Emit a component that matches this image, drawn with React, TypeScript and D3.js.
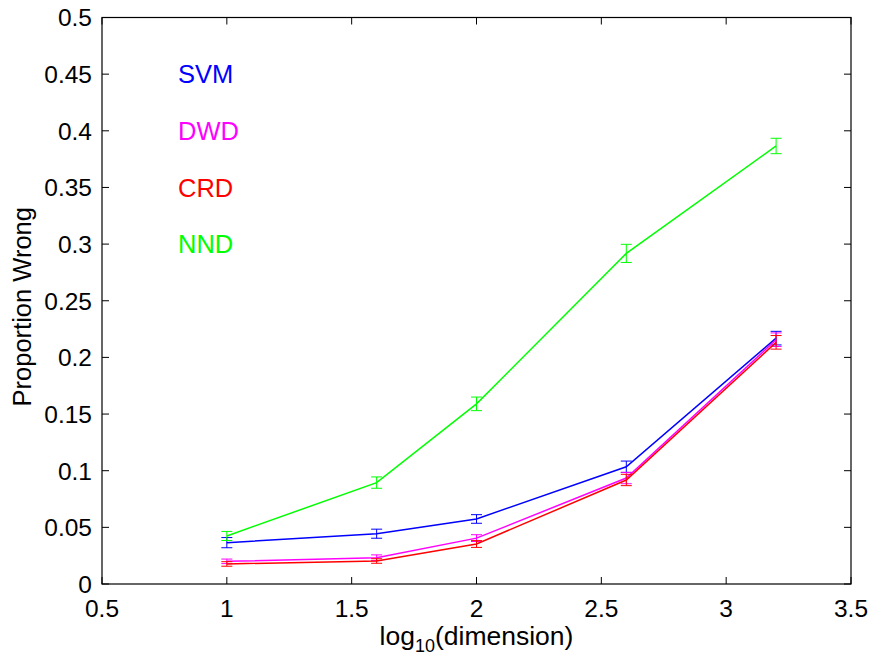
import React from 'react';
import * as d3 from 'd3';

const dims = [1, 1.6, 2, 2.6, 3.2];

const svmMean = [0.0365, 0.0444, 0.0574, 0.1035, 0.217];
const svmErr = [0.0045, 0.004, 0.0038, 0.005, 0.006];
const dwdMean = [0.0200, 0.0232, 0.0405, 0.0935, 0.2156];
const dwdErr = [0.002, 0.0025, 0.003, 0.005, 0.006];
const crdMean = [0.0177, 0.0203, 0.0353, 0.0918, 0.2133];
const crdErr = [0.002, 0.002, 0.003, 0.005, 0.006];
const nndMean = [0.0424, 0.0895, 0.159, 0.2918, 0.3866];
const nndErr = [0.004, 0.005, 0.006, 0.008, 0.0068];

const seriesNames = ['SVM', 'DWD', 'CRD', 'NND'];
const seriesColors = ['#0000ff', '#ff00ff', '#ff0000', '#00ff00'];
const seriesMeans = [svmMean, dwdMean, crdMean, nndMean];
const seriesErrs = [svmErr, dwdErr, crdErr, nndErr];

const xTicks = [0.5, 1, 1.5, 2, 2.5, 3, 3.5];
const yTicks = [0, 0.05, 0.1, 0.15, 0.2, 0.25, 0.3, 0.35, 0.4, 0.45, 0.5];

const W = 870;
const H = 660;
const left = 102;
const right = 851;
const top = 17.5;
const bottom = 584;

const font = '"Liberation Sans", Arial, sans-serif';

export default function App() {
  const x = d3.scaleLinear().domain([0.5, 3.5]).range([left, right]);
  const y = d3.scaleLinear().domain([0, 0.5]).range([bottom, top]);
  const line = d3
    .line<number>()
    .x((_, i) => x(dims[i]))
    .y((d) => y(d));
  const tickLen = 7;
  const cap = 5.5;

  return (
    <svg
      width={W}
      height={H}
      style={{ position: 'absolute', left: 0, top: 0, background: '#fff' }}
      fontFamily={font}
    >
      <rect x={0} y={0} width={W} height={H} fill="#fff" />

      {/* series */}
      {seriesMeans.map((means, s) => (
        <g key={seriesNames[s]} stroke={seriesColors[s]} fill="none" strokeWidth={1.5}>
          <path d={line(means) || ''} />
          {means.map((m, i) => {
            const e = seriesErrs[s][i];
            const cx = x(dims[i]);
            return (
              <g key={i} strokeWidth={1}>
                <line x1={cx} x2={cx} y1={y(m - e)} y2={y(m + e)} />
                <line x1={cx - cap} x2={cx + cap} y1={y(m - e)} y2={y(m - e)} />
                <line x1={cx - cap} x2={cx + cap} y1={y(m + e)} y2={y(m + e)} />
              </g>
            );
          })}
        </g>
      ))}

      {/* box and ticks */}
      <rect x={left} y={top} width={right - left} height={bottom - top} fill="none" stroke="#000" strokeWidth={1.2} />
      {xTicks.map((t) => (
        <g key={'x' + t} stroke="#000" strokeWidth={1}>
          <line x1={x(t)} x2={x(t)} y1={bottom} y2={bottom - tickLen} />
          <line x1={x(t)} x2={x(t)} y1={top} y2={top + tickLen} />
        </g>
      ))}
      {yTicks.map((t) => (
        <g key={'y' + t} stroke="#000" strokeWidth={1}>
          <line x1={left} x2={left + tickLen} y1={y(t)} y2={y(t)} />
          <line x1={right} x2={right - tickLen} y1={y(t)} y2={y(t)} />
        </g>
      ))}
      {xTicks.map((t) => (
        <text key={'xl' + t} x={x(t)} y={617} textAnchor="middle" fontSize={24.5} fill="#000">
          {String(t)}
        </text>
      ))}
      {yTicks.map((t) => (
        <text key={'yl' + t} x={92} y={y(t)} dy="0.36em" textAnchor="end" fontSize={24.5} fill="#000">
          {String(t)}
        </text>
      ))}

      {/* axis labels */}
      <text x={(left + right) / 2} y={645} textAnchor="middle" fontSize={26.5} fill="#000">
        log
        <tspan fontSize={18} dy={7}>10</tspan>
        <tspan dy={-7}>(dimension)</tspan>
      </text>
      <text
        transform={`translate(31,${(top + bottom) / 2 + 6}) rotate(-90)`}
        textAnchor="middle"
        fontSize={25.5}
        fill="#000"
      >
        Proportion Wrong
      </text>

      {/* legend labels */}
      {seriesNames.map((n, s) => (
        <text key={n} x={178} y={[74, 131, 188, 244][s]} dy="0.36em" fontSize={25.5} fill={seriesColors[s]}>
          {n}
        </text>
      ))}
    </svg>
  );
}
